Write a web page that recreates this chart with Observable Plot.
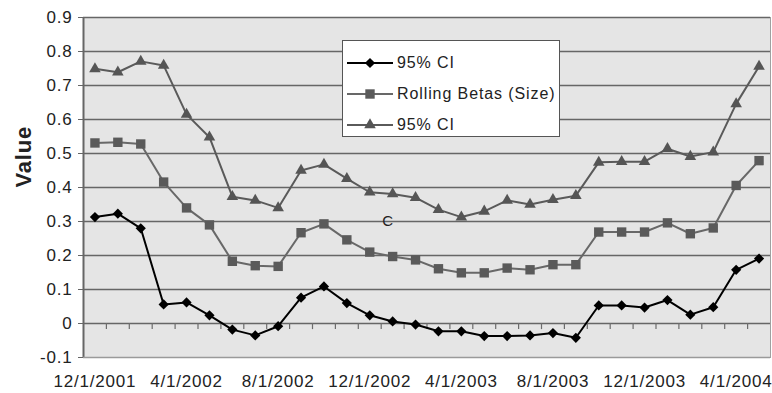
<!DOCTYPE html>
<html><head><meta charset="utf-8">
<script src="https://cdn.jsdelivr.net/npm/d3@7"></script>
<script src="https://cdn.jsdelivr.net/npm/@observablehq/plot@0.6"></script>
<style>
body{margin:0;background:#fff;font-family:"Liberation Sans",Arial,sans-serif;}
#wrap{position:relative;width:772px;height:393px;}
#legend{position:absolute;left:342px;top:40px;width:218px;height:97px;background:#fff;border:1.5px solid #555;box-sizing:border-box;padding-top:6px;}
.row{display:flex;align-items:center;height:31px;}
.row svg{margin-left:4px;margin-right:4px;}
.row span{font-size:16px;letter-spacing:0.9px;color:#222;}
</style></head><body><div id="wrap"><div id="legend"></div></div>
<script>
const months = ["12/1/2001","1/1/2002","2/1/2002","3/1/2002","4/1/2002","5/1/2002","6/1/2002","7/1/2002",
  "8/1/2002","9/1/2002","10/1/2002","11/1/2002","12/1/2002","1/1/2003","2/1/2003","3/1/2003",
  "4/1/2003","5/1/2003","6/1/2003","7/1/2003","8/1/2003","9/1/2003","10/1/2003","11/1/2003",
  "12/1/2003","1/1/2004","2/1/2004","3/1/2004","4/1/2004","5/1/2004"];
const lowerCI = [0.313,0.323,0.280,0.056,0.062,0.024,-0.018,-0.035,-0.008,0.076,0.109,0.060,0.024,0.006,-0.003,-0.023,-0.023,-0.037,-0.037,-0.035,-0.028,-0.042,0.053,0.053,0.047,0.069,0.026,0.048,0.158,0.191];
const rollingBeta = [0.531,0.533,0.528,0.416,0.340,0.290,0.183,0.170,0.168,0.267,0.293,0.246,0.210,0.197,0.187,0.161,0.149,0.149,0.163,0.158,0.173,0.173,0.269,0.269,0.269,0.296,0.264,0.281,0.406,0.479];
const upperCI = [0.749,0.739,0.771,0.759,0.615,0.548,0.373,0.362,0.340,0.450,0.468,0.426,0.386,0.381,0.370,0.335,0.313,0.330,0.362,0.350,0.364,0.376,0.474,0.476,0.476,0.514,0.491,0.504,0.646,0.756];
const seriesNames = ["95% CI","Rolling Betas (Size)","95% CI"];
const yTicks = [-0.1,0,0.1,0.2,0.3,0.4,0.5,0.6,0.7,0.8,0.9];
const labelEvery = 4;
const yLabel = "Value";
const note = [{i: 12.8, v: 0.3, text: "C"}];

const seriesVals = [lowerCI, rollingBeta, upperCI];
const symbols = ["diamond2","square","triangle"];
const colors = ["#000000","#5a5a5a","#555555"];
const radii = [4.6,5.3,4.3];
const lineColors = ["#000000","#686868","#5a5a5a"];

const rows = seriesVals.map((vals, s) => vals.map((v, i) => ({i, v, s})));
const boundaries = d3.range(0, months.length - 1).map(k => k + 0.5);
const labelIdx = d3.range(0, months.length, labelEvery);

const marks = [
  Plot.frame({fill:"#e5e5e5", stroke:"#a0a0a0"}),
  Plot.ruleY(yTicks.slice(1), {stroke:"#666666", strokeWidth:1.7}),
  Plot.ruleX(boundaries, {y1:0, y2:-0.018, stroke:"#6c6c6c", strokeWidth:1.2}),
  Plot.ruleX([-0.5], {stroke:"#666666", strokeWidth:2}),
  Plot.ruleY([-0.1], {stroke:"#9a9a9a", strokeWidth:1.5}),
  Plot.axisY({ticks: yTicks, tickSize:5, tickPadding:6, stroke:"#666666", label:null,
    tickFormat: d => d === 0 ? "0" : d.toFixed(1), fontSize:17, fill:"#222"}),
  Plot.axisX({ticks: labelIdx, tickSize:0, tickPadding:17, label:null, tickFormat: i => months[i], fontSize:17, fill:"#222"}),
  Plot.text([yLabel], {frameAnchor:"left", dx:-60, rotate:-90, fontWeight:"bold", fontSize:22, fill:"#222", text: d => d}),
  Plot.text(note, {x:"i", y:"v", text:"text", fontSize:15, fill:"#222"})
];
for (let s = 2; s >= 0; s--) {
  marks.push(Plot.line(rows[s], {x:"i", y:"v", stroke: lineColors[s], strokeWidth: 2}));
  marks.push(Plot.dot(rows[s], {x:"i", y:"v", symbol: symbols[s], fill: colors[s], r: radii[s], stroke:"none"}));
}

const chart = Plot.plot({
  width:772, height:393,
  marginLeft:83, marginRight:2, marginTop:17, marginBottom:36,
  x:{type:"linear", domain:[-0.5, months.length - 0.5], label:null},
  y:{domain:[-0.1, 0.9], label:null},
  style:{fontFamily:"Liberation Sans, Arial, sans-serif", letterSpacing:"0.8px", background:"#fff"},
  marks
});
const wrap = document.getElementById("wrap");
wrap.insertBefore(chart, wrap.firstChild);

const legend = document.getElementById("legend");
const symGen = [d3.symbolDiamond2, d3.symbolSquare, d3.symbolTriangle];
seriesNames.forEach((name, s) => {
  const row = document.createElement("div");
  row.className = "row";
  const size = radii[s] * radii[s] * Math.PI;
  row.innerHTML = `<svg width="46" height="14"><line x1="0" x2="46" y1="7" y2="7" stroke="${lineColors[s]}" stroke-width="2"/>` +
    `<path transform="translate(23,7)" d="${d3.symbol(symGen[s], size)()}" fill="${colors[s]}"/></svg><span>${name}</span>`;
  legend.appendChild(row);
});
</script>
</body></html>
